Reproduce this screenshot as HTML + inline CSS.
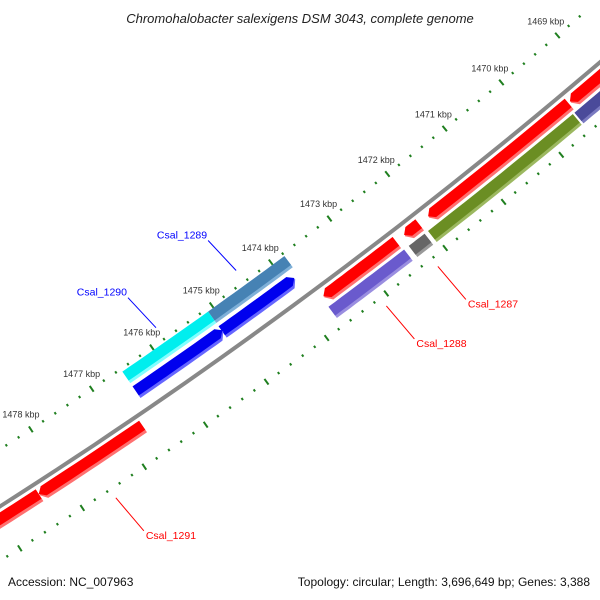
<!DOCTYPE html>
<html><head><meta charset="utf-8"><style>
html,body{margin:0;padding:0;background:#fff;}
svg{display:block;font-family:"Liberation Sans",sans-serif;}
</style></head><body>
<svg id="map" width="600" height="600" viewBox="0 0 600 600" xmlns="http://www.w3.org/2000/svg">
<rect width="600" height="600" fill="#fff"/>
<text x="300" y="23" text-anchor="middle" font-size="13" font-style="italic" fill="#222">Chromohalobacter salexigens DSM 3043, complete genome</text>
<g id="ticks"></g>
<g id="backbone"></g>
<g id="genes"></g>
<g id="callouts"></g>
<text x="8" y="586" font-size="12" fill="#111">Accession: NC_007963</text>
<text x="590" y="586" text-anchor="end" font-size="12" fill="#111">Topology: circular; Length: 3,696,649 bp; Genes: 3,388</text>
</svg>
<script>
// data (kbp positions)
const tickKbp = [1469,1470,1471,1472,1473,1474,1475,1476,1477,1478];
const geneStart = [1468.5,1469.48,1472.08,1472.47,1476.71,1478.39,1469.53,1472.10,1472.45,1468.5,1473.80,1475.09,1473.87,1475.08];
const geneEnd   = [1469.45,1471.92,1472.33,1473.70,1478.39,1480.0,1472.04,1472.37,1473.73,1469.50,1475.09,1476.52,1475.09,1476.52];
const geneTrack = [1,1,1,1,1,1,2,2,2,2,-2,-2,-1,-1];
const geneArrow = [1,1,1,1,1,1,0,0,0,0,0,0,-1,-1];
const geneColor = ["#ff0000","#ff0000","#ff0000","#ff0000","#ff0000","#ff0000","#6b8e23","#666666","#6a5acd","#4a4a9a","#4682b4","#00eeee","#0000ee","#0000ee"];
const geneLight = ["#ff7070","#ff7070","#ff7070","#ff7070","#ff7070","#ff7070","#9cb860","#999999","#9a8ee0","#7a7ac0","#7fb0d8","#80ffff","#6666ff","#6666ff"];
const labelNames = ["Csal_1287","Csal_1288","Csal_1289","Csal_1290","Csal_1291"];
const labelGenePos = [1472.23,1473.1,1474.45,1475.8,1477.55];
const labelTrack = [2,2,-2,-2,1];
const labelColor = ["#ff0000","#ff0000","#0000ff","#0000ff","#ff0000"];

const NS="http://www.w3.org/2000/svg";
const CX=-2876, CY=-4006, R0=5351;
function th(u){return (50.44+(u-1470)*0.79)*Math.PI/180;}
function pt(u,r){const a=th(u);return [CX+(R0+r)*Math.cos(a), CY+(R0+r)*Math.sin(a)];}
function mk(tag,attrs,parent){const e=document.createElementNS(NS,tag);for(const k in attrs)e.setAttribute(k,attrs[k]);parent.appendChild(e);return e;}
const trackR={1:[5,19],2:[22,36],"-1":[-27,-13],"-2":[-45,-31]};

// ticks
const tg=document.getElementById('ticks');
for(let i=0;i<=60;i++){
  const u=1468.6+i*0.2;
  const major=Math.abs(u-Math.round(u))<0.01;
  for(const base of [-48,46]){
    const len=major?7:2.5;
    const a=pt(u,base-len/2), b=pt(u,base+len/2);
    const l=mk('line',{x1:a[0],y1:a[1],x2:b[0],y2:b[1],stroke:'#1f7f1f','stroke-width':major?2:2},tg);
    
    
  }
}
tickKbp.forEach(k=>{
  const p=pt(k,-66);
  const t=mk('text',{x:p[0],y:p[1]+3,'text-anchor':'middle','font-size':'9',fill:'#333'},tg);
  t.textContent=k+' kbp';
  
  
});

// backbone
const bg=document.getElementById('backbone');
let d='';
for(let i=0;i<=40;i++){const p=pt(1467.5+i*0.3,0);d+=(i?'L':'M')+p[0].toFixed(1)+','+p[1].toFixed(1);}
const bb=mk('path',{d:d,stroke:'#888',fill:'none','stroke-width':4},bg);



// genes
const gg=document.getElementById('genes');
function bandPath(s,e,r1,r2,arrow){
  const tip=0.08, pts=[];
  let s2=s,e2=e;
  if(arrow===1)e2=e-tip; if(arrow===-1)s2=s+tip;
  const n=12;
  for(let i=0;i<=n;i++)pts.push(pt(s2+(e2-s2)*i/n,r1));
  if(arrow===1)pts.push(pt(e,(r1+r2)/2));
  for(let i=n;i>=0;i--)pts.push(pt(s2+(e2-s2)*i/n,r2));
  if(arrow===-1)pts.push(pt(s,(r1+r2)/2));
  return 'M'+pts.map(p=>p[0].toFixed(1)+','+p[1].toFixed(1)).join('L')+'Z';
}
for(let i=0;i<geneStart.length;i++){
  const [r1,r2]=trackR[geneTrack[i]];
  const g=mk('g',{},gg);
  
  
  mk('path',{d:bandPath(geneStart[i],geneEnd[i],r1,r2,geneArrow[i]),fill:geneLight[i]},g);
  mk('path',{d:bandPath(geneStart[i],geneEnd[i],r1,r2-3,geneArrow[i]),fill:geneColor[i]},g);
}

// callouts
const cg=document.getElementById('callouts');
for(let i=0;i<labelNames.length;i++){
  const [r1,r2]=trackR[labelTrack[i]];
  const out=labelTrack[i]>0;
  const a=pt(labelGenePos[i], out?56:-62);
  const b=[a[0]+(out?28:-28), a[1]+(out?33:-30)];
  const l=mk('line',{x1:a[0],y1:a[1],x2:b[0],y2:b[1],stroke:labelColor[i],'stroke-width':1},cg);
  
  
  const t=mk('text',{x:out?b[0]+2:b[0]-1,y:out?b[1]+8:b[1]-2,'text-anchor':out?'start':'end','font-size':'10.5',fill:labelColor[i]},cg);
  t.textContent=labelNames[i];
  
  
}
</script>
</body></html>
